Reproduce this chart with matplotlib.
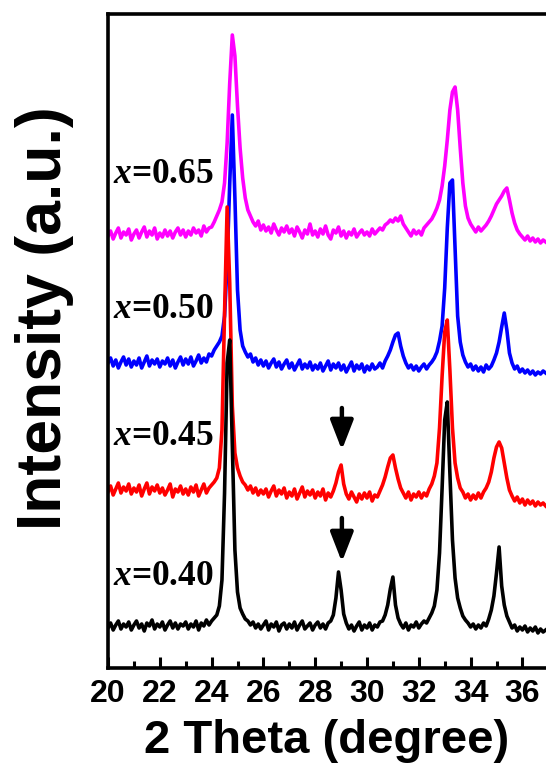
import numpy as np
import matplotlib
matplotlib.use("Agg")
import matplotlib.pyplot as plt
from matplotlib.ticker import MultipleLocator

# ---------------- data ----------------
two_theta = np.round(np.arange(170) * 0.1 + 20.0, 1)

black_040 = [
    40, 45, 38, 43, 47, 39, 44, 41, 46, 38,
    43, 47, 40, 44, 37, 45, 42, 48, 39, 44,
    41, 46, 38, 43, 47, 40, 45, 39, 44, 42,
    46, 39, 44, 41, 47, 38, 45, 42, 48, 43,
    47, 50, 53, 62, 88, 175, 305, 328, 225, 118,
    76, 60, 54, 49, 47, 43, 46, 40, 44, 39,
    43, 47, 38, 44, 41, 46, 37, 43, 45, 39,
    44, 40, 46, 38, 43, 47, 39, 42, 45, 38,
    43, 46, 40, 44, 39, 45, 47, 53, 70, 96,
    78, 54, 45, 39, 43, 37, 42, 46, 38, 43,
    40, 45, 38, 43, 41, 46, 47, 53, 63, 79,
    91, 63, 50, 44, 40, 45, 38, 43, 41, 46,
    40, 44, 47, 45, 50, 55, 62, 78, 115, 180,
    248, 266, 195, 128, 90, 70, 60, 52, 48, 45,
    41, 44, 39, 43, 40, 45, 42, 49, 58, 72,
    95, 121, 82, 63, 52, 46, 40, 43, 37, 41,
    38, 42, 36, 40, 37, 41, 35, 39, 36, 38,
]

red_045 = [
    176, 182, 173, 179, 185, 175, 181, 177, 184, 174,
    180, 176, 183, 172, 179, 185, 174, 181, 177, 183,
    175, 180, 173, 178, 184, 171, 179, 176, 182, 174,
    179, 173, 181, 176, 183, 172, 178, 184, 175, 180,
    183, 186, 190, 200, 238, 355, 461, 385, 262, 215,
    200, 192, 186, 183, 178, 182, 175, 180, 173, 178,
    174, 179, 171, 177, 182, 172, 178, 174, 180, 170,
    176, 172, 179, 169, 175, 181, 171, 177, 173, 178,
    170, 176, 172, 179, 168, 175, 171, 177, 185, 196,
    203, 184, 174, 169, 176, 171, 166, 174, 169, 175,
    170, 176, 167, 173, 171, 177, 183, 191, 201, 210,
    213, 200, 189, 180, 175, 170, 176, 168, 174, 171,
    176, 170, 175, 172, 179, 184, 192, 205, 240, 292,
    336, 348, 298, 240, 205, 190, 180, 176, 170, 174,
    168, 173, 169, 175, 170, 176, 180, 186, 196, 210,
    221, 226, 220, 205, 190, 178, 172, 167, 171, 165,
    169, 163, 168, 164, 167, 162, 166, 163, 165, 162,
]

blue_050 = [
    305, 310, 302, 308, 300, 306, 311, 303, 309, 301,
    307, 303, 310, 300, 306, 312, 302, 308, 304, 309,
    301, 307, 304, 310, 302, 308, 300, 306, 311, 303,
    309, 304, 311, 302, 307, 313, 305, 310, 306, 314,
    312, 318, 322, 326, 332, 352, 405, 485, 553, 470,
    378, 338, 322, 316, 311, 314, 306, 310, 303, 308,
    302, 307, 300, 305, 309, 301, 306, 299, 304, 308,
    300, 305, 298, 303, 308, 299, 304, 300, 306, 298,
    303, 299, 305, 297, 302, 307, 298, 304, 300, 305,
    298, 303, 296, 301, 306, 297, 303, 299, 304, 296,
    302, 298, 304, 299, 301, 305, 300, 307, 312, 318,
    326, 333, 335, 322, 312, 305, 300, 303, 298, 302,
    297, 301, 304, 299, 303, 306, 310, 316, 327, 342,
    380, 440, 485, 488, 420, 352, 326, 313, 306, 301,
    304, 298, 302, 297, 301, 296, 303, 299, 302, 308,
    315, 326, 341, 355, 338, 315, 305, 299, 302, 296,
    299, 295, 298, 294, 297, 293, 296, 294, 297, 295,
]

magenta_065 = [
    432, 437, 429, 435, 440, 430, 436, 433, 439, 428,
    434, 438, 430, 436, 441, 431, 437, 433, 440, 429,
    435, 431, 438, 432, 437, 430, 436, 440, 433, 438,
    431, 437, 433, 440, 435, 438, 432, 442, 436, 440,
    441, 446, 452, 458, 466, 485, 525, 585, 633, 612,
    562, 520, 490, 470, 458, 452, 446, 442, 447, 438,
    443, 437, 441, 435, 444, 438, 433, 440, 436, 442,
    435, 439, 432, 441, 436, 430, 438, 434, 444, 433,
    437, 431, 439, 434, 442, 433, 429, 438, 435, 441,
    432, 437, 430, 436, 433, 439, 431, 435, 438, 433,
    436, 432, 439, 434, 437, 440, 438, 443, 445, 448,
    446, 450, 447, 452, 444, 440, 436, 432, 438, 434,
    437, 433, 440, 443, 446, 449, 454, 460, 468, 482,
    502, 528, 558, 576, 581, 558, 520, 485, 462, 450,
    444, 440, 436, 441, 437, 440, 443, 447, 452, 458,
    464, 468, 472, 477, 480, 468, 455, 445, 438, 434,
    431, 428, 432, 427, 430, 426, 429, 425, 428, 426,
]

series_labels = ["$x$=0.65", "$x$=0.50", "$x$=0.45", "$x$=0.40"]
series_colors = ["#ff00ff", "#0000ff", "#ff0000", "#000000"]
series_values = [magenta_065, blue_050, red_045, black_040]
label_y = [485, 350, 223, 83]

arrow_x = 29.03
arrow_spans = [(260, 218), (150, 106)]

xticks = [20, 22, 24, 26, 28, 30, 32, 34, 36]

# ---------------- figure ----------------
plt.rcParams["mathtext.fontset"] = "custom"
plt.rcParams["mathtext.it"] = "Liberation Serif:italic:bold"
plt.rcParams["mathtext.rm"] = "Liberation Serif:bold"

W, H = 546, 766
fig = plt.figure(figsize=(W / 100, H / 100), dpi=100)
ax = fig.add_axes([108 / W, 1 - 668 / H, (W - 108) / W, (668 - 14) / H])

for vals, col in zip(series_values, series_colors):
    ax.plot(two_theta, vals, color=col, lw=2.6, solid_joinstyle="round")

ax.set_xlim(20, 20 + 438 / 25.9)
ax.set_ylim(0, 654)

for lab, yy in zip(series_labels, label_y):
    ax.text(20.18, yy, lab, fontsize=25.5, family="Liberation Serif",
            fontweight="bold", ha="left", va="baseline", color="k")

for y0, y1 in arrow_spans:
    ax.annotate("", xy=(arrow_x, y1), xytext=(arrow_x, y0),
                arrowprops=dict(arrowstyle="-|>,head_width=0.35,head_length=0.9",
                                lw=3.2, color="k", mutation_scale=20,
                                shrinkA=0, shrinkB=0))

for s in ["left", "top", "bottom"]:
    ax.spines[s].set_linewidth(2.6)
ax.spines["right"].set_visible(False)

ax.set_xticks(xticks)
ax.xaxis.set_minor_locator(MultipleLocator(1))
ax.tick_params(axis="x", which="major", direction="in", length=8, width=2.2,
               pad=8, labelsize=23)
ax.tick_params(axis="x", which="minor", direction="in", length=5, width=2.2)
ax.set_yticks([])
for t in ax.get_xticklabels():
    t.set_fontfamily("Liberation Sans")
    t.set_fontweight("bold")

fig.text(327 / W, 1 - 753 / H, "2 Theta (degree)", fontsize=34,
         family="Liberation Sans", fontweight="bold", ha="center", va="baseline")
fig.text(61 / W, 1 - 318 / H, "Intensity (a.u.)", fontsize=45,
         family="Liberation Sans", fontweight="bold", rotation=90,
         rotation_mode="anchor", ha="center", va="baseline")

fig.savefig("out.png", dpi=100)
